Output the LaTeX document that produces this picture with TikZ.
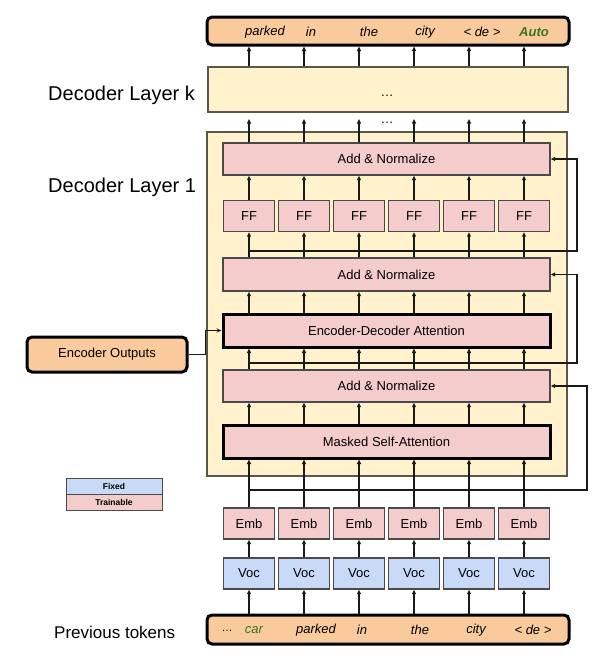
\documentclass[tikz,border=0pt]{standalone}
\usepackage{fontspec}
\setmainfont{Liberation Sans}
\usetikzlibrary{arrows.meta,calc}
\definecolor{peach}{HTML}{F9CB9C}
\definecolor{lyellow}{HTML}{FFF2CC}
\definecolor{lpink}{HTML}{F4CCCC}
\definecolor{lblue}{HTML}{C9DAF8}
\definecolor{dgreen}{HTML}{38761D}
\definecolor{bord}{HTML}{4A4A4A}
\definecolor{lay}{HTML}{5C5646}
\tikzset{
  fs/.style={font=\fontsize{13}{15}\selectfont},
  tokbar/.style={draw=black, line width=3pt, rounded corners=5pt, fill=peach, inner sep=0pt},
  layerbox/.style={draw=lay, line width=1.1pt, fill=lyellow, inner sep=0pt},
  pinkbox/.style={draw=bord, line width=1.3pt, fill=lpink, inner sep=0pt, fs},
  bluebox/.style={draw=bord, line width=1.3pt, fill=lblue, inner sep=0pt, fs},
  thickbox/.style={draw=black, line width=3pt, fill=lpink, inner sep=0pt, fs},
  smallbox/.style={pinkbox, minimum width=51pt, minimum height=31pt},
  arr/.style={draw=black!90, line width=1.2pt, -{Triangle[open, length=4.5pt, width=4pt]}},
  ln/.style={draw=black!90, line width=1.2pt},
  tok/.style={font=\fontsize{13}{15}\selectfont\itshape, inner sep=0pt},
  lbl/.style={anchor=west, inner sep=0pt},
  leg/.style={draw=bord, line width=1pt, inner sep=0pt, minimum width=96pt, minimum height=16pt, font=\fontsize{8.5}{10}\selectfont\bfseries}
}
\begin{document}
\begin{tikzpicture}[x=1pt,y=-1pt]
\useasboundingbox (0,0) rectangle (608,664);
% layer boxes
\node[layerbox, minimum width=360pt, minimum height=344pt] (layer1) at (387,304) {};
\node[layerbox, minimum width=360pt, minimum height=45pt] (layerk) at (388,89.5) {};
\node[fs, inner sep=0pt] (kdots) at (387,96) {\dots};
% output bar
\node[tokbar, minimum width=362pt, minimum height=28pt] (out) at (388,31) {};
\node[tok] (o1) at (265,32) {parked};
\node[tok] (o2) at (311,32) {in};
\node[tok] (o3) at (369,32) {the};
\node[tok] (o4) at (425,32) {city};
\node[tok] (o5) at (482,32) {< de >};
\node[tok, font=\fontsize{13}{15}\selectfont\itshape\bfseries, text=dgreen] (o6) at (534,32) {Auto};
% token bar
\node[tokbar, minimum width=362pt, minimum height=29pt] (tokb) at (388,629.5) {};
\node[tok, font=\fontsize{11}{13}\selectfont] (t0) at (227,631) {\dots};
\node[tok, text=dgreen] (t1) at (254,630) {car};
\node[tok] (t2) at (316,630) {parked};
\node[tok] (t3) at (362,630) {in};
\node[tok] (t4) at (420,630) {the};
\node[tok] (t5) at (476,630) {city};
\node[tok] (t6) at (533,630) {< de >};
% big blocks
\node[pinkbox, minimum width=327pt, minimum height=32pt] (an3) at (386.5,159) {Add \& Normalize};
\node[pinkbox, minimum width=327pt, minimum height=33pt] (an2) at (386.5,274.5) {Add \& Normalize};
\node[thickbox, minimum width=327pt, minimum height=33pt] (eda) at (386.5,330.5) {Encoder-Decoder Attention};
\node[pinkbox, minimum width=327pt, minimum height=32pt] (an1) at (386.5,386) {Add \& Normalize};
\node[thickbox, minimum width=327pt, minimum height=33pt] (msa) at (386.5,441.5) {Masked Self-Attention};
% encoder outputs
\node[tokbar, minimum width=160pt, minimum height=35pt, fs] (enc) at (107,354.5) {Encoder Outputs};
% legend
\node[leg, fill=lblue] (fixed) at (114,486) {Fixed};
\node[leg, fill=lpink] (train) at (114,502) {Trainable};
% labels
\node[lbl, font=\fontsize{20}{24}\selectfont] (labk) at (48,95) {Decoder Layer k};
\node[lbl, font=\fontsize{20}{24}\selectfont] (lab1) at (48,187) {Decoder Layer 1};
\node[lbl, font=\fontsize{17}{20}\selectfont] (labp) at (54,632) {Previous tokens};
\node[fs, inner sep=0pt] (dots) at (387,123) {\dots};
% columns
\foreach \i/\x in {1/249,2/304,3/359,4/414,5/469,6/524}{
  \node[smallbox] (ff\i) at (\x,216) {FF};
  \node[smallbox] (emb\i) at (\x,523.5) {Emb};
  \node[bluebox, minimum width=51pt, minimum height=31pt] (voc\i) at (\x,573.5) {Voc};
  \coordinate (top\i) at (\x,119);
  \draw[arr] (tokb.north -| voc\i) -- (voc\i.south);
  \draw[arr] (voc\i.north) -- (emb\i.south);
  \draw[arr] (emb\i.north) -- (emb\i.north |- msa.south);
  \draw[arr] (msa.north -| emb\i) -- (an1.south -| emb\i);
  \draw[arr] (an1.north -| emb\i) -- (eda.south -| emb\i);
  \draw[arr] (eda.north -| emb\i) -- (an2.south -| emb\i);
  \draw[arr] (an2.north -| emb\i) -- (ff\i.south);
  \draw[arr] (ff\i.north) -- (an3.south -| ff\i);
  \draw[arr] (an3.north -| ff\i) -- (top\i);
  \draw[arr] (layerk.north -| ff\i) -- (out.south -| ff\i);
}
% residual connections
\coordinate (r1a) at (249,490);
\coordinate (r1b) at (587,490);
\draw[ln, -{Triangle[open, length=4.5pt, width=4pt]}] (r1a) -- (r1b) |- (an1.east);
\coordinate (r2a) at (249,363);
\coordinate (r2b) at (577,363);
\draw[ln, -{Triangle[open, length=4.5pt, width=4pt]}] (r2a) -- (r2b) |- (an2.east);
\coordinate (r3a) at (249,251);
\coordinate (r3b) at (577,251);
\draw[ln, -{Triangle[open, length=4.5pt, width=4pt]}] (r3a) -- (r3b) |- (an3.east);
% encoder connection
\coordinate (eb) at (205,354.5);
\draw[ln, line width=1pt, -{Stealth[length=5pt, width=4pt]}] (enc.east) -- (eb) |- (eda.west);
\end{tikzpicture}
\end{document}
